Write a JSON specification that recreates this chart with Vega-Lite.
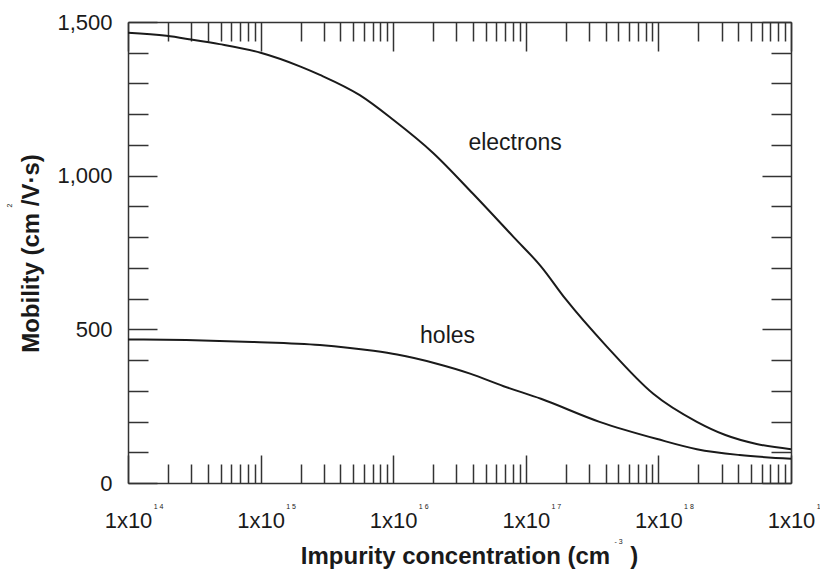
{
  "$schema": "https://vega.github.io/schema/vega-lite/v6.json",
  "width": 663,
  "height": 461,
  "autosize": "none",
  "padding": {"left": 128, "top": 22, "right": 29, "bottom": 88},
  "background": "white",
  "config": {
    "view": {"stroke": null},
    "font": "Liberation Sans",
    "axis": {
      "labelFont": "Liberation Sans",
      "titleFont": "Liberation Sans",
      "domainColor": "#333333",
      "tickColor": "#333333",
      "labelColor": "#1a1a1a",
      "titleColor": "#1a1a1a",
      "grid": false
    }
  },
  "datasets": {
    "curves": [
      {"N": 1e14, "mobility": 1465, "carrier": "electrons"},
      {"N": 1.95e14, "mobility": 1455, "carrier": "electrons"},
      {"N": 3.0e14, "mobility": 1443, "carrier": "electrons"},
      {"N": 4.9e14, "mobility": 1428, "carrier": "electrons"},
      {"N": 1e15, "mobility": 1400, "carrier": "electrons"},
      {"N": 2.0e15, "mobility": 1355, "carrier": "electrons"},
      {"N": 2.8e15, "mobility": 1328, "carrier": "electrons"},
      {"N": 5.6e15, "mobility": 1262, "carrier": "electrons"},
      {"N": 1e16, "mobility": 1182, "carrier": "electrons"},
      {"N": 2e16, "mobility": 1074, "carrier": "electrons"},
      {"N": 4e16, "mobility": 941, "carrier": "electrons"},
      {"N": 8.1e16, "mobility": 800, "carrier": "electrons"},
      {"N": 1.3e17, "mobility": 705, "carrier": "electrons"},
      {"N": 2.0e17, "mobility": 598, "carrier": "electrons"},
      {"N": 4.1e17, "mobility": 443, "carrier": "electrons"},
      {"N": 9.1e17, "mobility": 291, "carrier": "electrons"},
      {"N": 1.95e18, "mobility": 199, "carrier": "electrons"},
      {"N": 3.2e18, "mobility": 156, "carrier": "electrons"},
      {"N": 5.5e18, "mobility": 127, "carrier": "electrons"},
      {"N": 1e19, "mobility": 110, "carrier": "electrons"},
      {"N": 1e14, "mobility": 467, "carrier": "holes"},
      {"N": 2.75e14, "mobility": 465, "carrier": "holes"},
      {"N": 8.7e14, "mobility": 459, "carrier": "holes"},
      {"N": 2.8e15, "mobility": 449, "carrier": "holes"},
      {"N": 7.1e15, "mobility": 430, "carrier": "holes"},
      {"N": 1.07e16, "mobility": 418, "carrier": "holes"},
      {"N": 2.1e16, "mobility": 389, "carrier": "holes"},
      {"N": 3.8e16, "mobility": 356, "carrier": "holes"},
      {"N": 6.8e16, "mobility": 315, "carrier": "holes"},
      {"N": 1.3e17, "mobility": 274, "carrier": "holes"},
      {"N": 3.6e17, "mobility": 199, "carrier": "holes"},
      {"N": 9.8e17, "mobility": 143, "carrier": "holes"},
      {"N": 1.95e18, "mobility": 110, "carrier": "holes"},
      {"N": 4.1e18, "mobility": 91, "carrier": "holes"},
      {"N": 1e19, "mobility": 79, "carrier": "holes"}
    ],
    "labels": [
      {"N": 8.3e16, "mobility": 1105, "text": "electrons"},
      {"N": 2.57e16, "mobility": 478, "text": "holes"}
    ]
  },
  "layer": [
    {
      "data": {"name": "curves"},
      "transform": [{"filter": "datum.carrier === 'electrons'"}],
      "mark": {"type": "line", "color": "#1a1a1a", "strokeWidth": 2, "interpolate": "monotone"},
      "encoding": {
        "x": {
          "field": "N", "type": "quantitative",
          "scale": {"type": "log", "domain": [1e14, 1e19], "nice": false},
          "axis": {
            "orient": "bottom", "title": null, "labels": false,
            "values": [1e14,2e14,3e14,4e14,5e14,6e14,7e14,8e14,9e14,1e15,2e15,3e15,4e15,5e15,6e15,7e15,8e15,9e15,1e16,2e16,3e16,4e16,5e16,6e16,7e16,8e16,9e16,1e17,2e17,3e17,4e17,5e17,6e17,7e17,8e17,9e17,1e18,2e18,3e18,4e18,5e18,6e18,7e18,8e18,9e18,1e19],
            "domainWidth": 1.5, "tickWidth": 1.5,
            "tickSize": {"condition": {"test": "abs(log(datum.value)/LN10 - round(log(datum.value)/LN10)) < 0.01", "value": -28}, "value": -19}
          }
        },
        "y": {
          "field": "mobility", "type": "quantitative",
          "scale": {"domain": [0, 1500], "nice": false},
          "axis": {
            "orient": "left", "title": null, "labels": false,
            "values": [0,100,200,300,400,500,600,700,800,900,1000,1100,1200,1300,1400,1500],
            "domainWidth": 1.5, "tickWidth": 1.5,
            "tickSize": {"condition": {"test": "datum.value % 500 === 0", "value": -29}, "value": -20}
          }
        }
      }
    },
    {
      "data": {"name": "curves"},
      "transform": [{"filter": "datum.carrier === 'holes'"}],
      "mark": {"type": "line", "color": "#1a1a1a", "strokeWidth": 2, "interpolate": "monotone"},
      "encoding": {
        "x": {
          "field": "N", "type": "quantitative",
          "scale": {"type": "log", "domain": [1e14, 1e19], "nice": false},
          "axis": {
            "orient": "top", "title": null, "labels": false,
            "values": [1e14,2e14,3e14,4e14,5e14,6e14,7e14,8e14,9e14,1e15,2e15,3e15,4e15,5e15,6e15,7e15,8e15,9e15,1e16,2e16,3e16,4e16,5e16,6e16,7e16,8e16,9e16,1e17,2e17,3e17,4e17,5e17,6e17,7e17,8e17,9e17,1e18,2e18,3e18,4e18,5e18,6e18,7e18,8e18,9e18,1e19],
            "domainWidth": 1.5, "tickWidth": 1.5,
            "tickSize": {"condition": {"test": "abs(log(datum.value)/LN10 - round(log(datum.value)/LN10)) < 0.01", "value": -29}, "value": -19}
          }
        },
        "y": {
          "field": "mobility", "type": "quantitative",
          "scale": {"domain": [0, 1500], "nice": false},
          "axis": {
            "orient": "right", "title": null, "labels": false,
            "values": [0,100,200,300,400,500,600,700,800,900,1000,1100,1200,1300,1400,1500],
            "domainWidth": 1.5, "tickWidth": 1.5,
            "tickSize": {"condition": {"test": "datum.value % 500 === 0", "value": -29}, "value": -20}
          }
        }
      }
    },
    {
      "data": {"name": "labels"},
      "transform": [{"filter": "datum.text === 'electrons'"}],
      "mark": {"type": "text", "fontSize": 23, "color": "#1a1a1a", "align": "center", "baseline": "middle", "font": "Liberation Sans"},
      "encoding": {
        "text": {"field": "text"},
        "x": {
          "field": "N", "type": "quantitative",
          "scale": {"type": "log", "domain": [1e14, 1e19], "nice": false},
          "axis": {
            "orient": "bottom", "ticks": false, "domain": false,
            "values": [1e14, 1e15, 1e16, 1e17, 1e18, 1e19],
            "labelExpr": "'1x10'", "labelFontSize": 22, "labelPadding": 27,
            "labelFlush": false, "labelOverlap": false, "labelBound": false,
            "title": "Impurity concentration (cm\u00a0\u00a0\u00a0)",
            "titleFontSize": 24, "titleFontWeight": "bold",
            "titleX": 341, "titleY": 73, "titleBaseline": "middle", "titleAlign": "center"
          }
        },
        "y": {
          "field": "mobility", "type": "quantitative",
          "scale": {"domain": [0, 1500], "nice": false},
          "axis": {
            "orient": "left", "ticks": false, "domain": false,
            "values": [0, 500, 1000, 1500], "format": ",d",
            "labelFontSize": 22, "labelPadding": 16,
            "labelFlush": false, "labelOverlap": false, "labelBound": false,
            "title": "Mobility (cm\u00a0/V·s)",
            "titleFontSize": 24, "titleFontWeight": "bold", "titleAngle": -90,
            "titleX": -97, "titleY": 231, "titleBaseline": "middle", "titleAlign": "center"
          }
        }
      }
    },
    {
      "data": {"name": "labels"},
      "transform": [{"filter": "datum.text === 'holes'"}],
      "mark": {"type": "text", "fontSize": 23, "color": "#1a1a1a", "align": "center", "baseline": "middle", "font": "Liberation Sans"},
      "encoding": {
        "text": {"field": "text"},
        "x": {
          "field": "N", "type": "quantitative",
          "scale": {"type": "log", "domain": [1e14, 1e19], "nice": false},
          "axis": {
            "orient": "bottom", "ticks": false, "domain": false,
            "values": [1e14, 1e15, 1e16, 1e17, 1e18, 1e19],
            "labelExpr": "'1 ' + (round(log(datum.value)/LN10) - 10)",
            "labelFontSize": 7, "labelPadding": 19, "labelOffset": 30,
            "labelFlush": false, "labelOverlap": false, "labelBound": false,
            "title": "- 3", "titleFontSize": 7, "titleFontWeight": "normal",
            "titleX": 490, "titleY": 58, "titleBaseline": "middle", "titleAlign": "center"
          }
        },
        "y": {
          "field": "mobility", "type": "quantitative",
          "scale": {"domain": [0, 1500], "nice": false},
          "axis": {
            "orient": "left", "ticks": false, "domain": false, "labels": false,
            "values": [0, 500, 1000, 1500],
            "title": "2", "titleFontSize": 7, "titleFontWeight": "normal", "titleAngle": -90,
            "titleX": -119, "titleY": 183, "titleBaseline": "middle", "titleAlign": "center"
          }
        }
      }
    }
  ],
  "resolve": {"axis": {"x": "independent", "y": "independent"}}
}
